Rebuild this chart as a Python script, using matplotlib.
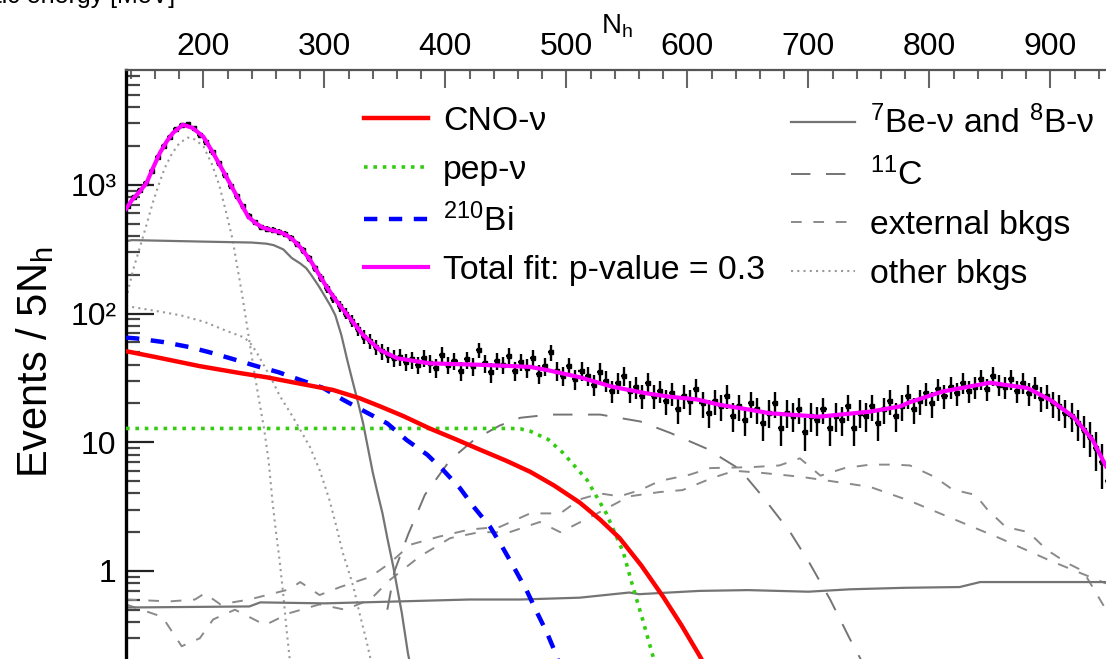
import numpy as np
import matplotlib.pyplot as plt
from matplotlib.ticker import MultipleLocator, FixedLocator, LogLocator, NullFormatter
from matplotlib.lines import Line2D

plt.rcParams['font.family'] = ['Liberation Sans', 'DejaVu Sans']
plt.rcParams['mathtext.fontset'] = 'custom'
plt.rcParams['mathtext.rm'] = 'Liberation Sans'
plt.rcParams['mathtext.it'] = 'Liberation Sans:italic'

# measured spectrum, 5 Nh bins starting at 135
counts = [680, 800, 905, 1030, 1290, 1640, 2010, 2350, 2700, 2910,
          2960, 2740, 2450, 2170, 1800, 1470, 1200, 980, 815, 680,
          575, 510, 470, 455, 445, 432, 418, 385, 350, 310,
          268, 225, 190, 158, 133, 114, 100, 88, 76, 66,
          61, 55, 51, 48, 45, 46, 42, 44, 40, 45,
          41, 38, 48, 40, 43, 36, 44, 39, 52, 41,
          35, 43, 40, 47, 36, 42, 38, 45, 34, 39,
          50, 36, 33, 39, 31, 36, 33, 28, 35, 30,
          25, 29, 33, 25, 27, 23, 29, 23, 25, 21,
          24, 18, 23, 21, 26, 20, 17, 21, 19, 23,
          16, 19, 15, 20, 18, 14, 17, 20, 13, 17,
          16, 18, 12, 16, 15, 18, 13, 16, 15, 19,
          13, 17, 16, 19, 14, 18, 21, 16, 19, 23,
          18, 21, 24, 20, 26, 23, 27, 24, 29, 25,
          27, 31, 26, 33, 28, 27, 31, 25, 29, 24,
          27, 22, 23, 20, 19, 17, 16, 14, 12.5, 11,
          9, 7, 5]

# fitted components: (Nh, events / 5 Nh)
fit_nh = [136, 141, 147, 153, 158, 164, 170, 175, 183, 191, 200, 208, 214, 219, 228,
          237, 243, 249, 256, 263, 268, 274, 281, 288, 295, 302, 310, 321, 332, 346,
          360, 387, 428, 470, 484, 511, 538, 566, 585, 608, 627, 650, 668, 709, 751,
          776, 784, 811, 850, 881, 900, 919, 935, 946]
fit_val = [650, 763, 880, 1035, 1330, 1770, 2200, 2540, 2930, 2770, 2360, 1770, 1400, 1150, 805,
           566, 505, 465, 445, 430, 410, 375, 320, 262, 205, 160, 125, 92, 68, 52,
           45, 41, 40, 38.5, 36.4, 32, 27, 24, 22.6, 21.5, 19.5, 18, 16.8, 15.8, 17.3,
           19, 20.5, 24.8, 29, 26.4, 21.3, 15.8, 10.4, 6.5]

cno_nh = [136, 160, 197, 230, 252, 280, 307, 329, 346, 365, 387, 408, 428, 450, 470,
          490, 511, 528, 544, 562, 580, 595, 610, 615]
cno_val = [51, 46, 39, 34.5, 32, 28.5, 25.5, 22, 19, 16, 12.8, 10.6, 8.8, 7.2, 5.9,
           4.6, 3.4, 2.5, 1.8, 1.1, 0.63, 0.38, 0.22, 0.18]

pep_nh = [136, 455, 462, 470, 485, 497, 517, 533, 547, 555, 563, 572, 576]
pep_val = [12.8, 12.8, 12.7, 12.2, 10.5, 8.3, 5.1, 2.8, 1.4, 0.75, 0.42, 0.21, 0.16]

bi_nh = [136, 145, 167, 188, 205, 224, 244, 262, 280, 299, 315, 335, 352, 368, 385,
         398, 412, 424, 437, 447, 457, 467, 476, 484, 491, 494]
bi_val = [65, 64, 60, 55, 50, 44.4, 39, 35, 30.5, 26.4, 21.5, 17, 14, 10.4, 8,
          6.1, 4.4, 3.1, 2.2, 1.54, 1.05, 0.71, 0.47, 0.33, 0.23, 0.19]

be7_nh = [136, 141, 200, 240, 252, 258, 266, 273, 280, 285, 289, 295, 300, 305, 309,
          314, 319, 324, 328, 332, 336, 340, 344, 348, 352, 357, 364, 369, 373]
be7_val = [365, 372, 362, 356, 349, 340, 315, 270, 245, 225, 200, 165, 138, 115, 97,
           68, 43, 28, 20, 14, 9, 5.8, 4, 2.8, 1.8, 1.07, 0.47, 0.23, 0.15]

b8_nh = [136, 238, 247, 300, 362, 420, 462, 511, 552, 560, 610, 650, 700, 734, 780, 825, 842, 946]
b8_val = [0.52, 0.53, 0.57, 0.56, 0.58, 0.60, 0.60, 0.62, 0.68, 0.66, 0.70, 0.71, 0.69, 0.72,
          0.74, 0.75, 0.82, 0.82]

c11_nh = [352, 358, 369, 383, 404, 424, 445, 462, 486, 528, 561, 586, 615, 643, 662,
          685, 701, 718, 734, 744]
c11_val = [0.5, 1.0, 1.9, 3.9, 7.3, 10.5, 13.5, 15.5, 16.4, 16.4, 14.5, 11.8, 9.0, 6.2, 3.8,
           2.0, 1.15, 0.6, 0.3, 0.2]

exta_nh = [136, 166, 182, 197, 208, 226, 251, 271, 296, 317, 338, 354, 379, 404, 428,
           453, 478, 495, 519, 552, 577, 596, 621, 639, 660, 693, 718, 751, 784, 817,
           858, 900, 946]
exta_val = [0.55, 0.44, 0.26, 0.30, 0.42, 0.50, 0.38, 0.47, 0.55, 0.50, 0.60, 0.85, 1.3, 1.8, 2.0,
            2.0, 2.4, 2.0, 2.6, 3.8, 4.1, 4.25, 5.3, 6.0, 5.8, 5.4, 5.0, 4.5, 3.5, 2.6,
            1.8, 1.2, 0.8]

extb_nh = [136, 172, 193, 201, 214, 238, 271, 280, 296, 313, 338, 354, 371, 395, 420,
           445, 470, 495, 511, 528, 544, 561, 577, 602, 619, 652, 676, 693, 710, 730,
           751, 771, 784, 804, 819, 838, 848, 863, 882, 897, 914, 927, 941, 946]
extb_val = [0.6, 0.58, 0.6, 0.67, 0.55, 0.6, 0.72, 0.82, 0.65, 0.75, 0.9, 1.15, 1.6, 1.85, 2.1,
            2.2, 2.8, 2.8, 3.6, 4.0, 3.8, 4.25, 5.0, 5.6, 6.3, 6.4, 6.6, 7.5, 5.5, 6.3,
            6.7, 6.7, 6.6, 5.4, 4.3, 3.9, 3.0, 2.2, 2.0, 1.46, 1.15, 1.0, 0.6, 0.5]

po_nh = [136, 142, 148, 153, 158, 163, 168, 174, 180, 187, 193, 200, 207, 213, 219,
         224, 228, 232, 237, 241, 245, 250, 254, 257, 260, 263, 266, 269, 272]
po_val = [130, 220, 340, 490, 720, 1000, 1350, 1750, 2100, 2330, 2250, 1990, 1450, 1000, 600,
          380, 230, 140, 70, 40, 24, 13, 7, 3.5, 2.0, 1.2, 0.65, 0.33, 0.18]

kr_nh = [136, 142, 160, 181, 201, 218, 234, 240, 245, 251, 257, 263, 274, 288, 296,
         304, 310, 315, 319, 324, 329, 335, 339]
kr_val = [115, 112, 105, 97, 86, 74, 65, 57, 48, 38, 30, 23, 15.7, 9.2, 6.1,
          3.6, 2.2, 1.4, 1.07, 0.75, 0.47, 0.28, 0.19]

fig = plt.figure(figsize=(11.06, 6.59), dpi=100)
ax = fig.add_axes([126 / 1106, 0.0, 980 / 1106, 589 / 659])

gray = '#747474'
dot_style = dict(color='#9a9a9a', lw=1.5, ls=(0, (1, 2)))
ext_style = dict(color='#8a8a8a', lw=1.4, ls=(0, (5.5, 6)))
c11_style = dict(color=gray, lw=1.4, ls=(0, (10, 8)))
ax.plot(po_nh, po_val, zorder=2, **dot_style)
ax.plot(kr_nh, kr_val, zorder=2, **dot_style)
ax.plot(exta_nh, exta_val, zorder=2, **ext_style)
ax.plot(extb_nh, extb_val, zorder=2, **ext_style)
ax.plot(c11_nh, c11_val, zorder=2, **c11_style)
ax.plot(be7_nh, be7_val, color=gray, lw=1.6, zorder=2)
ax.plot(b8_nh, b8_val, color=gray, lw=1.6, zorder=2)
ax.plot(pep_nh, pep_val, color='#33cc11', lw=2.6, ls=(0, (1, 1.6)), zorder=3)
ax.plot(bi_nh, bi_val, color='#0000ff', lw=3.2, ls=(0, (3, 2.6)), zorder=3)
ax.plot(cno_nh, cno_val, color='#ff0000', lw=3.2, zorder=3)

bins = np.arange(len(counts)) * 5 + 137.5
counts = np.array(counts, dtype=float)
ax.errorbar(bins, counts, yerr=np.sqrt(counts), xerr=2.5, fmt='s', ms=2.6,
            color='black', ecolor='black', elinewidth=1.7, capsize=0, zorder=4)
ax.plot(fit_nh, fit_val, color='#ff00ff', lw=3, zorder=5)

ax.set_xlim(136, 946)
ax.set_yscale('log')
ax.set_ylim(0.207, 7800)

ax.xaxis.tick_top()
ax.xaxis.set_major_locator(MultipleLocator(100))
ax.xaxis.set_minor_locator(MultipleLocator(20))
ax.tick_params(axis='x', which='major', direction='in', length=13, width=1.5,
               color='#666666', labelsize=23, pad=6)
ax.tick_params(axis='x', which='minor', direction='in', length=6.5, width=1.5,
               color='#666666')

ax.yaxis.set_major_locator(FixedLocator([1, 10, 100, 1000]))
ax.set_yticklabels(['1', '10', '10²', '10³'])
ax.yaxis.set_minor_locator(LogLocator(base=10, subs=np.arange(2, 10)))
ax.yaxis.set_minor_formatter(NullFormatter())
ax.tick_params(axis='y', which='major', direction='in', length=20, width=1.6,
               color='#222222', labelsize=23, pad=7)
ax.tick_params(axis='y', which='minor', direction='in', length=10, width=1.6,
               color='#444444')

for side in ['right', 'bottom']:
    ax.spines[side].set_visible(False)
ax.spines['left'].set_linewidth(2.4)
ax.spines['left'].set_color('black')
ax.spines['top'].set_linewidth(1.6)
ax.spines['top'].set_color('#555555')

fig.text(601 / 1106, 1 - 33 / 659, r'N$_\mathrm{h}$', fontsize=20, ha='left', va='baseline')
fig.text(35 / 1106, 1 - 362 / 659, r'Events / 5N$_\mathrm{h}$', fontsize=30,
         rotation=90, ha='center', va='center')
# energy scale title sits above the frame and runs off the top edge
fig.text(175 / 1106, 1 - 3 / 659, 'kinetic energy [MeV]', fontsize=18,
         ha='right', va='baseline')

# legend, two columns
left_handles = [
    Line2D([], [], color='#ff0000', lw=3.2),
    Line2D([], [], color='#33cc11', lw=2.6, ls=(0, (1, 1.6))),
    Line2D([], [], color='#0000ff', lw=3.2, ls=(0, (3, 2.6))),
    Line2D([], [], color='#ff00ff', lw=3),
]
left_labels = ['CNO-ν', 'pep-ν', r'$^{210}$Bi', 'Total fit: p-value = 0.3']
right_handles = [
    Line2D([], [], color=gray, lw=1.6),
    Line2D([], [], **c11_style),
    Line2D([], [], **ext_style),
    Line2D([], [], **dot_style),
]
right_labels = [r'$^{7}$Be-ν and $^{8}$B-ν', r'$^{11}$C', 'external bkgs', 'other bkgs']

leg_kw = dict(frameon=False, fontsize=24.3, handlelength=1.9, handletextpad=0.45,
              labelspacing=0.52, borderpad=0, borderaxespad=0, loc='upper left')
fig.legend(left_handles, left_labels, bbox_to_anchor=(364 / 1106, 1 - 106 / 659), **leg_kw)
fig.legend(right_handles, right_labels, bbox_to_anchor=(791 / 1106, 1 - 106 / 659), **leg_kw)

fig.savefig('out.png', dpi=100)
